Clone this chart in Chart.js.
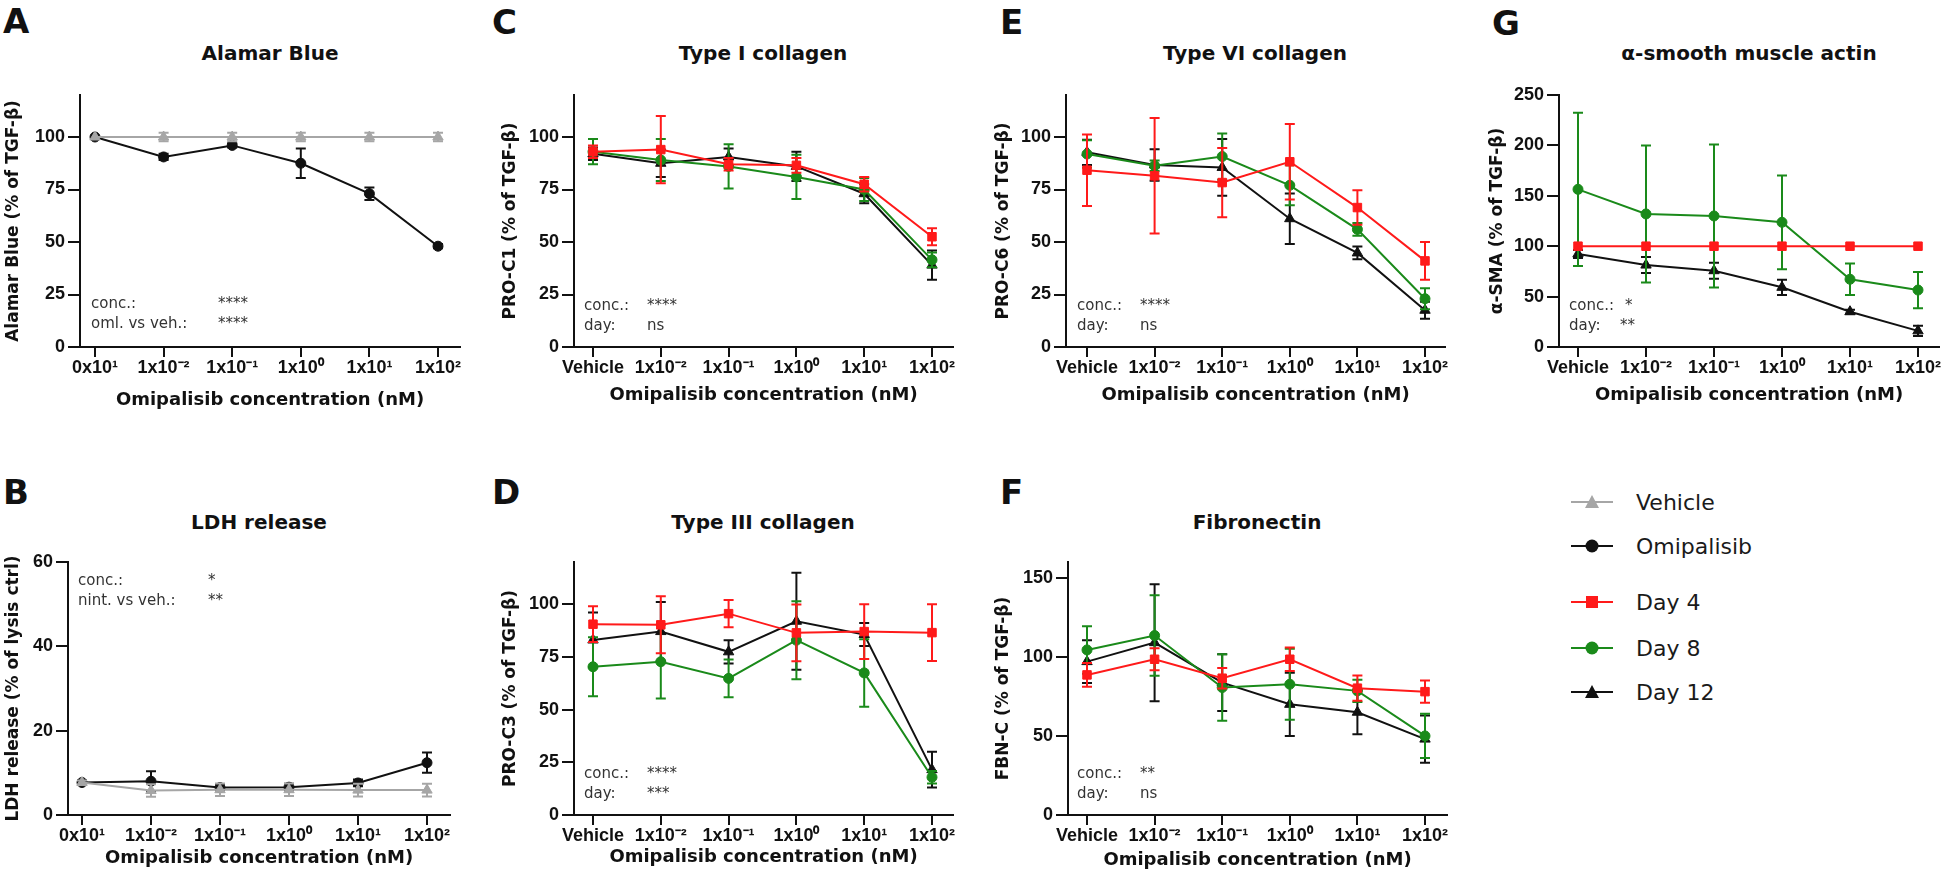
<!DOCTYPE html>
<html>
<head>
<meta charset="utf-8">
<script src="https://cdn.jsdelivr.net/npm/chart.js@4.4.1/dist/chart.umd.min.js"></script>
<style>
  body { margin: 0; background: #fff; width: 1946px; height: 883px; position: relative; overflow: hidden; }
  canvas { position: absolute; }
  .letter { position: absolute; font: bold 34px 'DejaVu Sans', sans-serif; color: #111; transform: translateY(-50%); }
  .title { position: absolute; font: bold 20px 'DejaVu Sans', sans-serif; color: #111; white-space: nowrap; transform: translate(-50%, -50%); }
  .note { position: absolute; font: 15px 'DejaVu Sans', sans-serif; color: #333; white-space: nowrap; transform: translateY(-50%); }
  .leg { position: absolute; font: 22px 'DejaVu Sans', sans-serif; color: #1a1a1a; white-space: nowrap; transform: translateY(-50%); }
  svg { position: absolute; }
</style>
</head>
<body>
<script>
// tick labels
const labelsAB = ['0x10¹', '1x10⁻²', '1x10⁻¹', '1x10⁰', '1x10¹', '1x10²'];
const labelsDay = ['Vehicle', '1x10⁻²', '1x10⁻¹', '1x10⁰', '1x10¹', '1x10²'];

// A - Alamar Blue
const vehA = [100, 100, 100, 100, 100, 100];
const vehA_err = [0, 2, 2, 2, 2, 2];
const omiA = [100, 90.5, 96, 87.5, 73, 48];
const omiA_err = [0, 1.5, 1, 7, 3, 1];

// B - LDH release
const vehB = [7.7, 5.8, 6.0, 6.0, 5.9, 5.9];
const vehB_err = [0.5, 1.5, 1.5, 1.5, 1.5, 1.5];
const omiB = [7.7, 8.0, 6.5, 6.6, 7.6, 12.4];
const omiB_err = [0.5, 2.4, 0.8, 0.8, 0.8, 2.4];

// C - Type I collagen
const d4C = [93, 94, 87, 86.5, 77.5, 52.5];
const d4C_err = [3, 16, 3, 3.5, 3.5, 4];
const d8C = [93, 89, 86, 81, 75, 41.5];
const d8C_err = [6, 10, 10.5, 10.5, 5.5, 3.5];
const d12C = [92, 87.5, 90.5, 86, 73, 39];
const d12C_err = [3, 6.5, 4, 7, 4.5, 7];

// D - Type III collagen
const d4D = [90.5, 90.2, 95.5, 86.4, 87, 86.5];
const d4D_err = [8.5, 13.5, 6.5, 13.5, 13, 13.5];
const d8D = [70.3, 72.7, 64.8, 82.9, 67.4, 17.9];
const d8D_err = [14, 17.5, 9, 18.5, 16, 3];
const d12D = [83, 87, 77.4, 91.9, 85.6, 21.5];
const d12D_err = [13, 14, 5.5, 23, 5.5, 8.5];

// E - Type VI collagen
const d4E = [84.2, 81.5, 78.3, 88.2, 66.4, 41];
const d4E_err = [17, 27.5, 16.5, 18, 8.2, 9];
const d8E = [91.9, 86.3, 90.7, 77, 56, 23];
const d8E_err = [6.5, 2.5, 11, 9.5, 3, 5];
const d12E = [92.7, 86.7, 85.5, 61.1, 44.8, 17.5];
const d12E_err = [6, 7.5, 13.5, 12, 3, 4];

// F - Fibronectin
const d4F = [88.6, 98.5, 86.5, 98.5, 80.2, 78];
const d4F_err = [7.5, 7, 6.5, 7.5, 8, 7];
const d8F = [104.4, 113.5, 80.6, 82.7, 78.5, 50];
const d8F_err = [15, 25.5, 21, 22.5, 7, 14];
const d12F = [97, 109, 83.7, 70, 65, 48];
const d12F_err = [13.5, 37, 18, 20, 14, 15];

// G - alpha-SMA
const d4G = [100, 100, 100, 100, 100, 100];
const d4G_err = [0, 0, 0, 0, 0, 0];
const d8G = [156.4, 132, 130, 123.7, 67.2, 56.5];
const d8G_err = [76, 68, 71, 46.5, 15.7, 18];
const d12G = [92.3, 81.3, 75.7, 59.2, 35, 16];
const d12G_err = [4, 8, 8, 7.5, 2, 5];

const GRAY = '#a6a6a6', BLACK = '#111111', RED = '#ff1a1a', GREEN = '#1a8a1a';
const XTITLE = 'Omipalisib concentration (nM)';

const panels = [
  { letter: 'A', lpos: [3, 21], title: 'Alamar Blue', tpos: [270, 53],
    ax: 80, xr: 460, t0: 95, t5: 438, y0: 347, yTop: 95, yMax: 120, yTicks: [0, 25, 50, 75, 100],
    yTitle: 'Alamar Blue (% of TGF-β)', ytx: 13, xty: 400, labels: labelsAB,
    series: [['Vehicle', vehA, vehA_err, GRAY, 'triangle'], ['Omipalisib', omiA, omiA_err, BLACK, 'circle']],
    notes: [[91, 218, 303, 'conc.:', '****'], [91, 218, 323, 'oml. vs veh.:', '****']] },
  { letter: 'B', lpos: [3, 492], title: 'LDH release', tpos: [259, 522],
    ax: 68, xr: 450, t0: 82, t5: 427, y0: 815, yTop: 562, yMax: 60, yTicks: [0, 20, 40, 60],
    yTitle: 'LDH release (% of lysis ctrl)', ytx: 13, xty: 858, labels: labelsAB,
    series: [['Vehicle', vehB, vehB_err, GRAY, 'triangle'], ['Omipalisib', omiB, omiB_err, BLACK, 'circle']],
    notes: [[78, 208, 580, 'conc.:', '*'], [78, 208, 600, 'nint. vs veh.:', '**']] },
  { letter: 'C', lpos: [492, 22], title: 'Type I collagen', tpos: [763, 53],
    ax: 574, xr: 953, t0: 593, t5: 932, y0: 347, yTop: 95, yMax: 120, yTicks: [0, 25, 50, 75, 100],
    yTitle: 'PRO-C1 (% of TGF-β)', ytx: 510, xty: 395, labels: labelsDay,
    series: [['Day 4', d4C, d4C_err, RED, 'rect'], ['Day 8', d8C, d8C_err, GREEN, 'circle'], ['Day 12', d12C, d12C_err, BLACK, 'triangle']],
    notes: [[584, 647, 305, 'conc.:', '****'], [584, 647, 325, 'day:', 'ns']] },
  { letter: 'D', lpos: [492, 492], title: 'Type III collagen', tpos: [763, 522],
    ax: 574, xr: 953, t0: 593, t5: 932, y0: 815, yTop: 562, yMax: 120, yTicks: [0, 25, 50, 75, 100],
    yTitle: 'PRO-C3 (% of TGF-β)', ytx: 510, xty: 857, labels: labelsDay,
    series: [['Day 4', d4D, d4D_err, RED, 'rect'], ['Day 8', d8D, d8D_err, GREEN, 'circle'], ['Day 12', d12D, d12D_err, BLACK, 'triangle']],
    notes: [[584, 647, 773, 'conc.:', '****'], [584, 647, 793, 'day:', '***']] },
  { letter: 'E', lpos: [1000, 22], title: 'Type VI collagen', tpos: [1255, 53],
    ax: 1066, xr: 1445, t0: 1087, t5: 1425, y0: 347, yTop: 95, yMax: 120, yTicks: [0, 25, 50, 75, 100],
    yTitle: 'PRO-C6 (% of TGF-β)', ytx: 1003, xty: 395, labels: labelsDay,
    series: [['Day 4', d4E, d4E_err, RED, 'rect'], ['Day 8', d8E, d8E_err, GREEN, 'circle'], ['Day 12', d12E, d12E_err, BLACK, 'triangle']],
    notes: [[1077, 1140, 305, 'conc.:', '****'], [1077, 1140, 325, 'day:', 'ns']] },
  { letter: 'F', lpos: [1000, 492], title: 'Fibronectin', tpos: [1257, 522],
    ax: 1068, xr: 1447, t0: 1087, t5: 1425, y0: 815, yTop: 562, yMax: 160, yTicks: [0, 50, 100, 150],
    yTitle: 'FBN-C (% of TGF-β)', ytx: 1003, xty: 860, labels: labelsDay,
    series: [['Day 4', d4F, d4F_err, RED, 'rect'], ['Day 8', d8F, d8F_err, GREEN, 'circle'], ['Day 12', d12F, d12F_err, BLACK, 'triangle']],
    notes: [[1077, 1140, 773, 'conc.:', '**'], [1077, 1140, 793, 'day:', 'ns']] },
  { letter: 'G', lpos: [1492, 23], title: 'α-smooth muscle actin', tpos: [1749, 53],
    ax: 1559, xr: 1939, t0: 1578, t5: 1918, y0: 347, yTop: 95, yMax: 250, yTicks: [0, 50, 100, 150, 200, 250],
    yTitle: 'α-SMA (% of TGF-β)', ytx: 1497, xty: 395, labels: labelsDay,
    series: [['Day 4', d4G, d4G_err, RED, 'rect'], ['Day 8', d8G, d8G_err, GREEN, 'circle'], ['Day 12', d12G, d12G_err, BLACK, 'triangle']],
    notes: [[1569, 1625, 305, 'conc.:', '*'], [1569, 1620, 325, 'day:', '**']] }
];

// error bars drawn just before each dataset's line and markers
const errorBars = {
  id: 'errorBars',
  beforeDatasetDraw(chart, args) {
    const ds = chart.data.datasets[args.index];
    if (!ds.err) return;
    const ys = chart.scales.y, ctx = chart.ctx;
    ctx.save();
    ctx.strokeStyle = ds.borderColor;
    ctx.lineWidth = 2;
    args.meta.data.forEach((pt, i) => {
      const e = ds.err[i];
      if (!e) return;
      const v = ds.data[i].y;
      const t = ys.getPixelForValue(v + e), b = ys.getPixelForValue(v - e);
      ctx.beginPath();
      ctx.moveTo(pt.x, t); ctx.lineTo(pt.x, b);
      ctx.moveTo(pt.x - 5, t); ctx.lineTo(pt.x + 5, t);
      ctx.moveTo(pt.x - 5, b); ctx.lineTo(pt.x + 5, b);
      ctx.stroke();
    });
    ctx.restore();
  }
};

function addDiv(cls, text, x, y) {
  const d = document.createElement('div');
  d.className = cls;
  d.textContent = text;
  d.style.left = x + 'px';
  d.style.top = y + 'px';
  document.body.appendChild(d);
}

function buildPanel(p) {
  const lhY = 17 * 1.2, lhX = 18 * 1.2, padTop = 20, padRight = 20;
  const left = Math.round(p.ytx - lhY / 2), top = p.yTop - padTop;
  const W = p.xr + padRight - left, H = Math.round(p.xty + lhX / 2) - top;
  const yW = p.ax - left, xH = top + H - p.y0;
  const step = (p.t5 - p.t0) / 5;

  const cv = document.createElement('canvas');
  cv.width = W; cv.height = H;
  cv.style.left = left + 'px'; cv.style.top = top + 'px';
  cv.style.width = W + 'px'; cv.style.height = H + 'px';
  document.body.appendChild(cv);

  const tickFont = { family: "'Liberation Sans', Arial, sans-serif", size: 18, weight: 'bold' };
  new Chart(cv, {
    type: 'line',
    data: {
      datasets: p.series.map(([label, vals, err, color, style]) => ({
        label: label,
        data: vals.map((v, i) => ({ x: i, y: v })),
        err: err,
        borderColor: color,
        backgroundColor: color,
        pointBackgroundColor: color,
        pointBorderColor: color,
        pointStyle: style,
        pointRadius: style === 'circle' ? 5 : 6,
        pointBorderWidth: 1,
        borderWidth: 2,
        tension: 0,
        fill: false
      }))
    },
    options: {
      responsive: false,
      animation: false,
      devicePixelRatio: 1,
      layout: { autoPadding: false, padding: { top: padTop, right: padRight, left: 0, bottom: 0 } },
      plugins: { legend: { display: false }, tooltip: { enabled: false } },
      scales: {
        x: {
          type: 'linear',
          min: -(p.t0 - p.ax) / step,
          max: 5 + (p.xr - p.t5) / step,
          afterBuildTicks: s => { s.ticks = p.labels.map((_, i) => ({ value: i })); },
          afterFit: s => { s.height = xH; },
          ticks: { callback: v => p.labels[v], color: '#111', font: tickFont, padding: 0, maxRotation: 0, autoSkip: false },
          grid: { drawOnChartArea: false, drawTicks: true, tickLength: 10, color: '#111', lineWidth: 2 },
          border: { color: '#111', width: 2 },
          title: { display: true, text: XTITLE, color: '#111', padding: 0,
                   font: { family: "'DejaVu Sans', sans-serif", size: 18, weight: 'bold' } }
        },
        y: {
          min: 0,
          max: p.yMax,
          afterBuildTicks: s => { s.ticks = p.yTicks.map(v => ({ value: v })); },
          afterFit: s => { s.width = yW; },
          ticks: { color: '#111', font: tickFont, padding: 3 },
          grid: { drawOnChartArea: false, drawTicks: true, tickLength: 12, color: '#111', lineWidth: 2 },
          border: { color: '#111', width: 2 },
          title: { display: true, text: p.yTitle, color: '#111', padding: 0,
                   font: { family: "'DejaVu Sans', sans-serif", size: 17, weight: 'bold' } }
        }
      }
    },
    plugins: [errorBars]
  });

  addDiv('letter', p.letter, p.lpos[0], p.lpos[1]);
  addDiv('title', p.title, p.tpos[0], p.tpos[1]);
  p.notes.forEach(([x1, x2, y, a, b]) => { addDiv('note', a, x1, y); addDiv('note', b, x2, y); });
}

panels.forEach(buildPanel);

// legend
const legendItems = [
  ['Vehicle', GRAY, 'triangle', 502],
  ['Omipalisib', BLACK, 'circle', 546],
  ['Day 4', RED, 'rect', 602],
  ['Day 8', GREEN, 'circle', 648],
  ['Day 12', BLACK, 'triangle', 692]
];
legendItems.forEach(([text, color, shape, y]) => {
  let mark;
  if (shape === 'circle') mark = `<circle cx="21" cy="10" r="6.5" fill="${color}"/>`;
  else if (shape === 'rect') mark = `<rect x="15" y="4" width="12" height="12" fill="${color}"/>`;
  else mark = `<polygon points="21,3 28,16 14,16" fill="${color}"/>`;
  const s = `<svg width="42" height="20" style="left:1571px;top:${y - 10}px">` +
            `<line x1="0" y1="10" x2="42" y2="10" stroke="${color}" stroke-width="2"/>${mark}</svg>`;
  document.body.insertAdjacentHTML('beforeend', s);
  addDiv('leg', text, 1636, y);
});
</script>
</body>
</html>
